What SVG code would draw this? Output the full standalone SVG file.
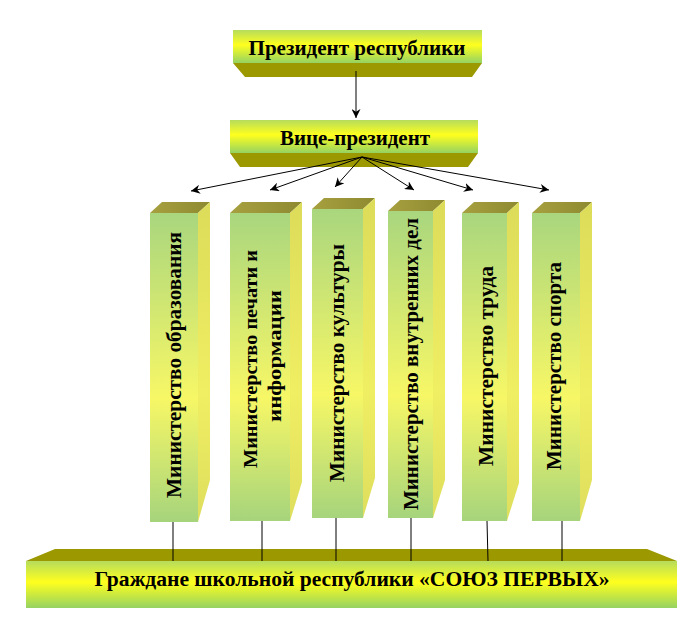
<svg xmlns="http://www.w3.org/2000/svg" width="700" height="641" viewBox="0 0 700 641">
<defs>
<linearGradient id="barFront" x1="0" y1="0" x2="0" y2="1">
<stop offset="0" stop-color="#b6dc5c"/>
<stop offset="0.45" stop-color="#ffff1e"/>
<stop offset="1" stop-color="#95d262"/>
</linearGradient>
<linearGradient id="minFront" x1="0" y1="0" x2="0" y2="1">
<stop offset="0" stop-color="#a9d67e"/>
<stop offset="0.6" stop-color="#f7f766"/>
<stop offset="1" stop-color="#a6d47c"/>
</linearGradient>
<linearGradient id="minSide" x1="0" y1="0" x2="0" y2="1">
<stop offset="0" stop-color="#dcdc5a"/>
<stop offset="0.6" stop-color="#f0ee62"/>
<stop offset="1" stop-color="#dede5e"/>
</linearGradient>
<linearGradient id="minTop" x1="0" y1="0" x2="1" y2="0">
<stop offset="0" stop-color="#a7a040"/>
<stop offset="1" stop-color="#8e8a30"/>
</linearGradient>
<marker id="arr" viewBox="0 0 10 10" refX="10" refY="5" markerWidth="9" markerHeight="9" markerUnits="userSpaceOnUse" orient="auto">
<path d="M0,0 L10,5 L0,10 L3,5 z" fill="#000"/>
</marker>
<style>
.bevel{fill:#9c9800}
.barf{fill:url(#barFront)}
.mf{fill:url(#minFront)}
.ms{fill:url(#minSide)}
.mt{fill:url(#minTop)}
.t{font-family:"Liberation Serif","Times New Roman",serif;font-weight:bold;fill:#000}
.conn line{stroke:#000;stroke-width:1}
</style>
</defs>

<g id="president">
<polygon class="bevel" points="233,63 482,63 472,77 245,77"/>
<rect class="barf" x="233" y="30" width="249" height="33"/>
<text class="t" x="357" y="55" font-size="21" text-anchor="middle" textLength="217" lengthAdjust="spacingAndGlyphs">Президент республики</text>
</g>

<g id="vice-president">
<polygon class="bevel" points="230,153 478,153 468,167 240,167"/>
<rect class="barf" x="230" y="120" width="248" height="33"/>
<text class="t" x="355" y="145" font-size="21" text-anchor="middle" textLength="150" lengthAdjust="spacingAndGlyphs">Вице-президент</text>
</g>

<g id="min-education">
<polygon class="mt" points="150,213 162,202 210,202 198,213"/>
<polygon class="ms" points="198,213 210,202 210,480 198,522"/>
<rect class="mf" x="150" y="213" width="48" height="309"/>
<text class="t" font-size="22" text-anchor="middle" textLength="266" lengthAdjust="spacingAndGlyphs" transform="translate(181,365) rotate(-90)">Министерство образования</text>
</g>

<g id="min-press">
<polygon class="mt" points="230,213 242,202 302,202 290,213"/>
<polygon class="ms" points="290,213 302,202 302,482 290,521"/>
<rect class="mf" x="230" y="213" width="60" height="308"/>
<text class="t" font-size="19" text-anchor="middle" textLength="218" lengthAdjust="spacingAndGlyphs" transform="translate(257,359) rotate(-90)">Министерство печати и</text>
<text class="t" font-size="19" text-anchor="middle" textLength="132" lengthAdjust="spacingAndGlyphs" transform="translate(281,356) rotate(-90)">информации</text>
</g>

<g id="min-culture">
<polygon class="mt" points="312,209 324,198 375,198 363,209"/>
<polygon class="ms" points="363,209 375,198 375,478 363,518"/>
<rect class="mf" x="312" y="209" width="51" height="309"/>
<text class="t" font-size="22" text-anchor="middle" textLength="238" lengthAdjust="spacingAndGlyphs" transform="translate(344,363) rotate(-90)">Министерство культуры</text>
</g>

<g id="min-interior">
<polygon class="mt" points="388,211 400,200 445,200 433,211"/>
<polygon class="ms" points="433,211 445,200 445,480 433,518"/>
<rect class="mf" x="388" y="211" width="45" height="307"/>
<text class="t" font-size="22" text-anchor="middle" textLength="292" lengthAdjust="spacingAndGlyphs" transform="translate(418,364) rotate(-90)">Министерство внутренних дел</text>
</g>

<g id="min-labour">
<polygon class="mt" points="462,213 474,202 519,202 507,213"/>
<polygon class="ms" points="507,213 519,202 519,483 507,521"/>
<rect class="mf" x="462" y="213" width="45" height="308"/>
<text class="t" font-size="22" text-anchor="middle" textLength="200" lengthAdjust="spacingAndGlyphs" transform="translate(493,366) rotate(-90)">Министерство труда</text>
</g>

<g id="min-sport">
<polygon class="mt" points="532,213 544,202 592,202 580,213"/>
<polygon class="ms" points="580,213 592,202 592,480 580,521"/>
<rect class="mf" x="532" y="213" width="48" height="308"/>
<text class="t" font-size="22" text-anchor="middle" textLength="208" lengthAdjust="spacingAndGlyphs" transform="translate(561,366) rotate(-90)">Министерство спорта</text>
</g>

<g id="citizens">
<polygon class="bevel" points="55,549 647,549 677,561 26,561"/>
<rect class="barf" x="26" y="561" width="651" height="47"/>
<text class="t" x="352" y="586" font-size="21" text-anchor="middle" textLength="515" lengthAdjust="spacingAndGlyphs">Граждане школьной республики «СОЮЗ ПЕРВЫХ»</text>
</g>

<g id="connectors" class="conn">
<line x1="356" y1="71" x2="356" y2="118" marker-end="url(#arr)"/>
<line x1="362" y1="157" x2="191" y2="191" marker-end="url(#arr)"/>
<line x1="362" y1="157" x2="270" y2="190" marker-end="url(#arr)"/>
<line x1="362" y1="157" x2="335" y2="187" marker-end="url(#arr)"/>
<line x1="362" y1="157" x2="414" y2="190" marker-end="url(#arr)"/>
<line x1="362" y1="157" x2="473" y2="190" marker-end="url(#arr)"/>
<line x1="362" y1="157" x2="549" y2="190" marker-end="url(#arr)"/>
<line x1="173" y1="522" x2="173" y2="561"/>
<line x1="262" y1="521" x2="262" y2="561"/>
<line x1="336" y1="518" x2="336" y2="561"/>
<line x1="411" y1="518" x2="411" y2="561"/>
<line x1="487" y1="521" x2="488" y2="561"/>
<line x1="562" y1="521" x2="562" y2="561"/>
</g>
</svg>
